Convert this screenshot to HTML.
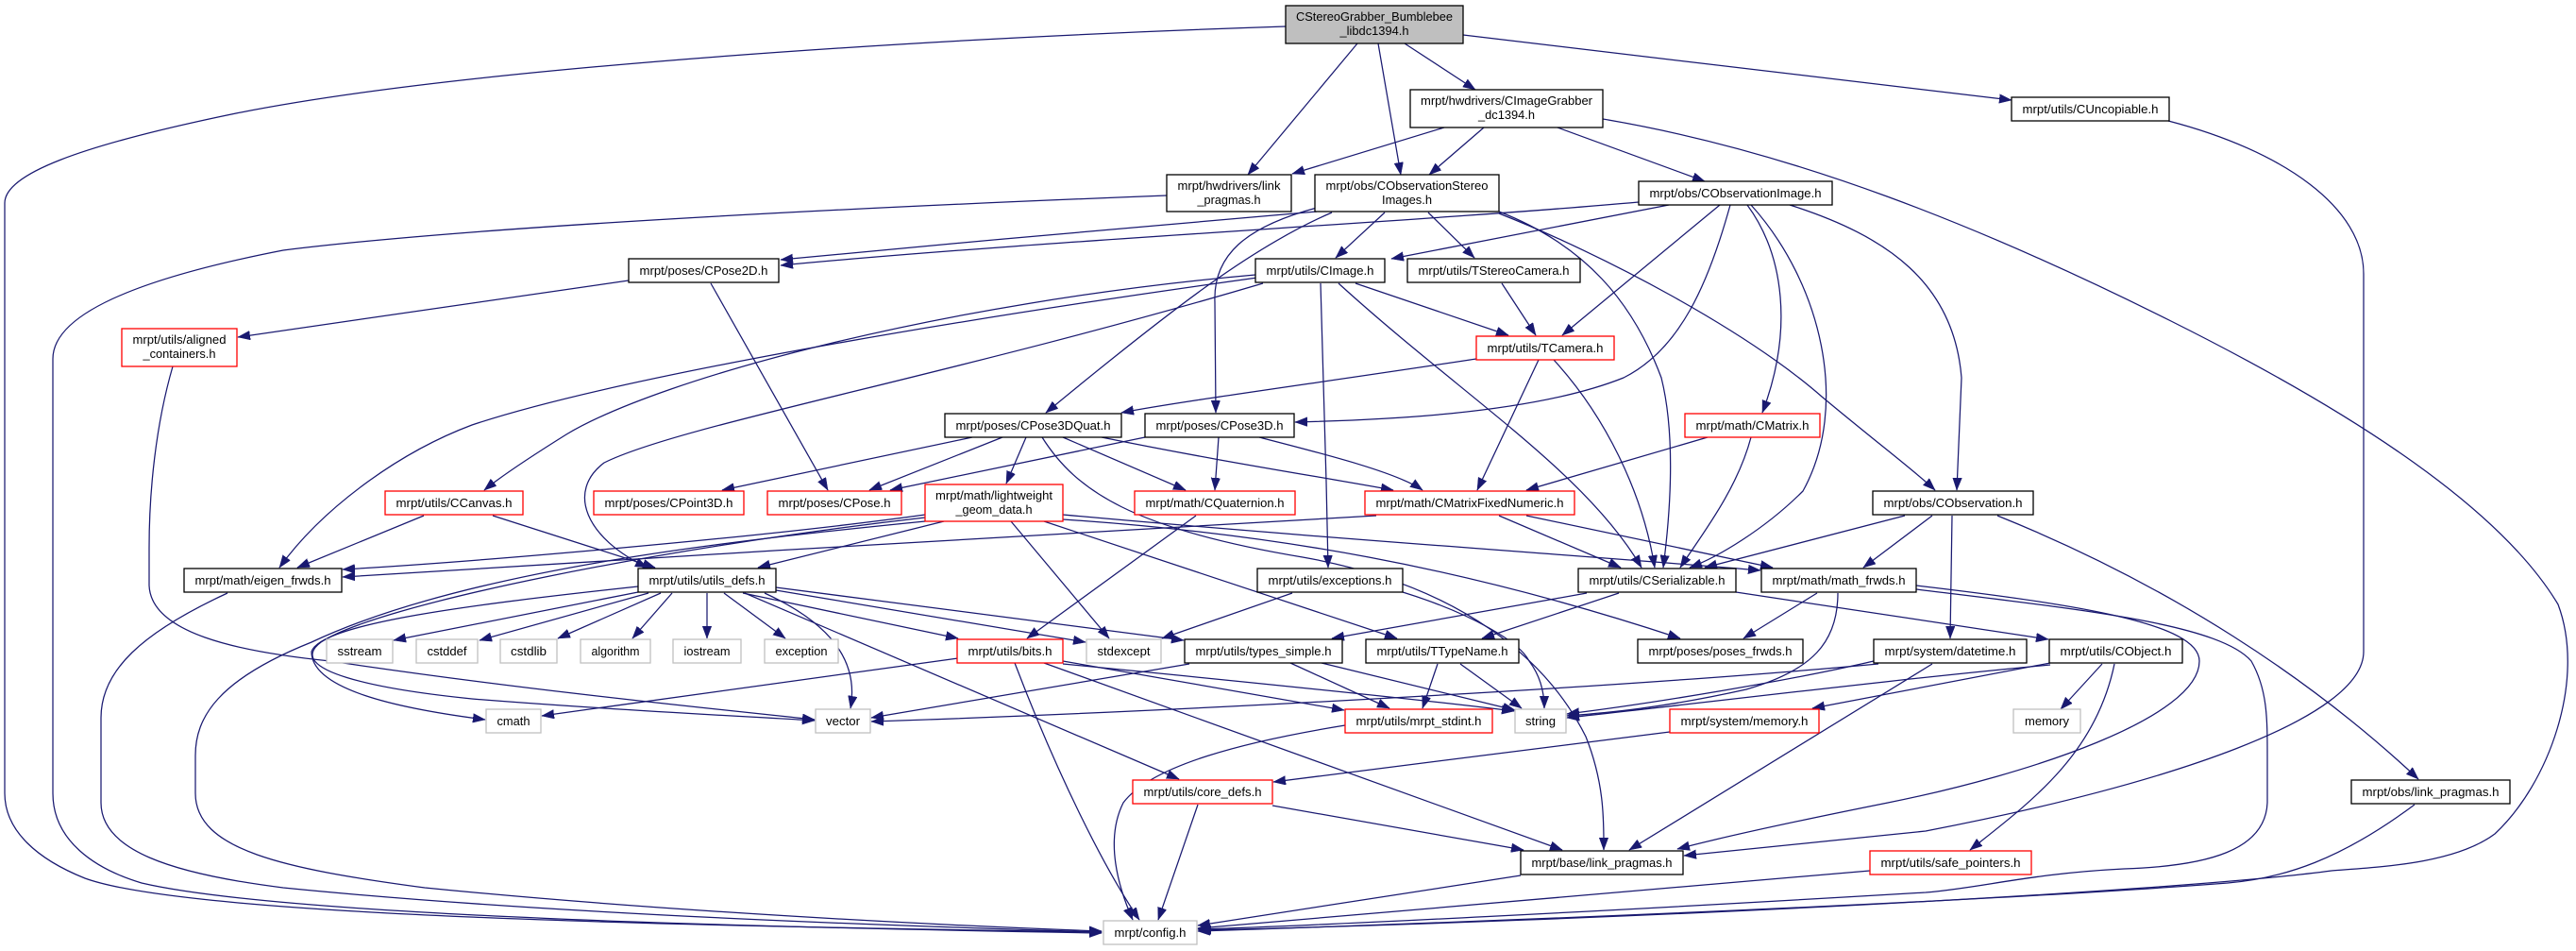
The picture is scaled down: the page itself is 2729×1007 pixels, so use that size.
<!DOCTYPE html>
<html>
<head>
<meta charset="utf-8">
<style>
html,body{margin:0;padding:0;background:#fff;}
svg{display:block;}
text{font-family:"Liberation Sans",Arial,sans-serif;font-size:13px;fill:#000;}
.e{fill:none;stroke:#191970;stroke-width:1.25;marker-end:url(#ah);}
.nb{fill:#fff;stroke:#000;stroke-width:1.3;}
.nr{fill:#fff;stroke:#ff0000;stroke-width:1.3;}
.ng{fill:#fff;stroke:#bfbfbf;stroke-width:1.3;}
</style>
</head>
<body>
<svg width="2729" height="1007" viewBox="0 0 2729 1007" xmlns="http://www.w3.org/2000/svg">
<defs>
<marker id="ah" markerUnits="userSpaceOnUse" markerWidth="14" markerHeight="11" refX="13" refY="4.8" orient="auto">
<path d="M0,0 L13,4.8 L0,9.6 z" fill="#191970" stroke="#191970" stroke-width="0.5"/>
</marker>
</defs>
<rect width="2729" height="1007" fill="#fff"/>

<!-- edges -->
<g>
<path class="e" d="M1362,28 C1000,40 500,70 250,120 C80,155 5,185 5,215 L5,840 C5,880 40,910 90,930 C200,970 700,980 1167,987"/>
<path class="e" d="M1438,46 L1322,185"/>
<path class="e" d="M1460,46 L1484,185"/>
<path class="e" d="M1488,46 L1563,95"/>
<path class="e" d="M1550,37 L2131,106"/>
<path class="e" d="M1530,135 L1369,184"/>
<path class="e" d="M1572,135 L1514,185"/>
<path class="e" d="M1650,135 L1806,192"/>
<path class="e" d="M1698,126 C1900,160 2100,240 2300,340 C2500,440 2650,540 2710,640 C2740,720 2700,830 2643,883 C2600,915 2520,918 2470,922 C2300,945 1700,975 1270,985"/>
<path class="e" d="M1236,207 C900,220 500,240 300,265 C120,300 56,340 56,380 L56,840 C56,890 100,920 150,935 C300,970 800,982 1167,988"/>
<path class="e" d="M1395,224 C1300,232 1000,258 827,275"/>
<path class="e" d="M1736,214 C1500,235 1100,255 827,281"/>
<path class="e" d="M1467,225 L1415,273"/>
<path class="e" d="M1513,225 L1562,273"/>
<path class="e" d="M1411,225 C1330,260 1250,320 1108,437"/>
<path class="e" d="M1395,220 C1320,240 1285,270 1287,320 L1288,437"/>
<path class="e" d="M1588,224 C1680,260 1730,320 1760,400 C1775,460 1770,540 1762,601"/>
<path class="e" d="M1588,226 C1700,270 1850,350 1930,420 C1990,470 2030,500 2050,519"/>
<path class="e" d="M1768,217 L1474,274"/>
<path class="e" d="M1822,217 L1655,355"/>
<path class="e" d="M1833,217 C1810,300 1780,370 1720,400 C1620,440 1450,445 1372,447"/>
<path class="e" d="M1851,217 C1890,270 1900,350 1867,437"/>
<path class="e" d="M1855,217 C1930,300 1960,430 1910,520 C1870,560 1820,590 1790,601"/>
<path class="e" d="M1896,217 C2000,250 2070,300 2078,400 L2073,519"/>
<path class="e" d="M666,297 L252,357"/>
<path class="e" d="M753,300 L877,519"/>
<path class="e" d="M1330,291 C1000,320 700,400 600,460 C560,485 530,505 513,519"/>
<path class="e" d="M1332,294 C1000,340 650,400 500,450 C420,480 340,540 296,601"/>
<path class="e" d="M1338,300 C1000,400 720,450 640,490 C600,520 620,570 686,601"/>
<path class="e" d="M1436,300 L1598,355"/>
<path class="e" d="M1399,300 L1405,510 L1407,601"/>
<path class="e" d="M1418,300 C1550,420 1680,500 1739,601"/>
<path class="e" d="M1591,300 L1627,355"/>
<path class="e" d="M183,388 C165,450 158,520 158,580 L158,620 C160,670 250,690 350,700 C550,730 750,750 863,762"/>
<path class="e" d="M1564,380 C1400,405 1250,425 1188,437"/>
<path class="e" d="M1630,381 L1565,519"/>
<path class="e" d="M1646,381 C1700,440 1740,520 1753,601"/>
<path class="e" d="M1030,463 L765,519"/>
<path class="e" d="M1062,463 L921,519"/>
<path class="e" d="M1087,463 L1066,512"/>
<path class="e" d="M1126,463 L1256,519"/>
<path class="e" d="M1167,463 C1300,490 1400,505 1476,519"/>
<path class="e" d="M1104,463 C1140,520 1200,560 1380,590 C1550,620 1640,700 1680,780 C1700,830 1699,870 1699,900"/>
<path class="e" d="M1213,463 L943,519"/>
<path class="e" d="M1291,463 L1287,519"/>
<path class="e" d="M1334,463 C1400,480 1480,500 1507,519"/>
<path class="e" d="M1809,463 L1617,519"/>
<path class="e" d="M1855,463 C1840,520 1800,570 1780,601"/>
<path class="e" d="M449,546 L315,601"/>
<path class="e" d="M522,546 L694,601"/>
<path class="e" d="M1267,546 L1088,676"/>
<path class="e" d="M980,545 C800,570 500,595 363,603"/>
<path class="e" d="M1000,552 L803,601"/>
<path class="e" d="M1071,552 L1175,676"/>
<path class="e" d="M1126,545 C1400,570 1700,590 1865,604"/>
<path class="e" d="M1106,552 L1480,676"/>
<path class="e" d="M1126,550 C1350,565 1550,600 1780,676"/>
<path class="e" d="M980,552 C800,570 500,600 330,680 C230,720 207,760 207,800 L207,840 C207,900 300,920 450,940 C700,965 1000,980 1167,986"/>
<path class="e" d="M980,548 C700,580 400,640 340,680 C300,710 400,730 500,740 C650,752 780,758 863,763"/>
<path class="e" d="M676,621 C500,640 340,660 330,690 C330,730 420,750 514,762"/>
<path class="e" d="M1458,546 C1200,560 700,590 363,611"/>
<path class="e" d="M1588,546 L1717,601"/>
<path class="e" d="M1617,546 L1878,601"/>
<path class="e" d="M2018,546 L1806,601"/>
<path class="e" d="M2047,546 L1974,601"/>
<path class="e" d="M2068,546 L2066,676"/>
<path class="e" d="M2116,546 C2300,620 2450,720 2562,825"/>
<path class="e" d="M676,627 L417,678"/>
<path class="e" d="M687,628 L508,678"/>
<path class="e" d="M700,628 L591,676"/>
<path class="e" d="M712,628 L670,676"/>
<path class="e" d="M749,628 L749,676"/>
<path class="e" d="M767,628 L832,676"/>
<path class="e" d="M810,628 C880,660 910,700 901,750"/>
<path class="e" d="M787,628 L1015,676"/>
<path class="e" d="M822,625 L1150,680"/>
<path class="e" d="M822,622 L1254,678"/>
<path class="e" d="M789,628 L1249,825"/>
<path class="e" d="M1369,628 L1231,676"/>
<path class="e" d="M1486,627 C1560,650 1610,680 1620,700 C1635,720 1636,740 1636,750"/>
<path class="e" d="M1681,628 L1411,676"/>
<path class="e" d="M1715,628 L1570,676"/>
<path class="e" d="M1839,627 L2170,677"/>
<path class="e" d="M1925,628 L1847,676"/>
<path class="e" d="M1947,628 C1947,680 1920,710 1850,730 C1760,750 1700,755 1660,758"/>
<path class="e" d="M2030,620 C2200,640 2330,660 2330,700 C2330,760 2150,820 2000,850 C1900,870 1830,885 1777,899"/>
<path class="e" d="M2030,624 C2200,645 2350,660 2385,700 C2402,730 2402,760 2402,800 L2402,850 C2400,900 2340,917 2250,920 C2150,925 2100,940 2040,945 C1700,965 1400,980 1269,984"/>
<path class="e" d="M1985,700 C1900,720 1750,745 1660,756"/>
<path class="e" d="M1990,703 C1700,730 1200,755 923,764"/>
<path class="e" d="M2047,703 L1726,900"/>
<path class="e" d="M2227,703 L2183,751"/>
<path class="e" d="M2240,703 C2220,800 2150,850 2087,900"/>
<path class="e" d="M2172,702 L1920,750"/>
<path class="e" d="M2172,704 C2000,720 1800,745 1660,760"/>
<path class="e" d="M1769,775 L1349,828"/>
<path class="e" d="M1269,852 L1227,974"/>
<path class="e" d="M1348,853 L1614,900"/>
<path class="e" d="M1015,697 L574,758"/>
<path class="e" d="M1075,702 C1120,820 1170,920 1207,974"/>
<path class="e" d="M1126,700 L1424,752"/>
<path class="e" d="M1106,702 L1655,900"/>
<path class="e" d="M1126,703 C1300,720 1500,740 1604,753"/>
<path class="e" d="M1260,703 L923,760"/>
<path class="e" d="M1367,702 L1472,750"/>
<path class="e" d="M1400,702 L1605,752"/>
<path class="e" d="M1523,703 L1507,750"/>
<path class="e" d="M1547,703 L1612,750"/>
<path class="e" d="M1425,768 C1320,785 1220,810 1190,850 C1170,890 1185,940 1200,974"/>
<path class="e" d="M1611,927 L1269,980"/>
<path class="e" d="M1981,922 L1269,983"/>
<path class="e" d="M2558,852 C2480,910 2420,930 2360,935 C2100,955 1600,975 1269,986"/>
<path class="e" d="M2297,128 C2420,160 2504,220 2504,290 L2504,690 C2504,760 2300,830 2040,880 L1784,906"/>
<path class="e" d="M241,628 C150,670 107,710 107,760 L107,850 C107,900 180,925 300,940 C600,970 1000,982 1167,987"/>
</g>

<!-- nodes -->
<g text-anchor="middle">
<rect x="1362" y="6" width="188" height="40" fill="#bfbfbf" stroke="#000" stroke-width="1.3"/>
<text x="1456" y="22" textLength="166" lengthAdjust="spacingAndGlyphs">CStereoGrabber_Bumblebee</text>
<text x="1456" y="37" textLength="73" lengthAdjust="spacingAndGlyphs">_libdc1394.h</text>

<rect class="nb" x="2131" y="103" width="167" height="25"/>
<text x="2214.5" y="120" textLength="144" lengthAdjust="spacingAndGlyphs">mrpt/utils/CUncopiable.h</text>

<rect class="nb" x="1494" y="95" width="204" height="40"/>
<text x="1596" y="111" textLength="182" lengthAdjust="spacingAndGlyphs">mrpt/hwdrivers/CImageGrabber</text>
<text x="1596" y="126" textLength="60" lengthAdjust="spacingAndGlyphs">_dc1394.h</text>

<rect class="nb" x="1236" y="185" width="132" height="39"/>
<text x="1302" y="201" textLength="109" lengthAdjust="spacingAndGlyphs">mrpt/hwdrivers/link</text>
<text x="1302" y="216" textLength="67" lengthAdjust="spacingAndGlyphs">_pragmas.h</text>

<rect class="nb" x="1393" y="185" width="195" height="39"/>
<text x="1490.5" y="201" textLength="172" lengthAdjust="spacingAndGlyphs">mrpt/obs/CObservationStereo</text>
<text x="1490.5" y="216" textLength="53" lengthAdjust="spacingAndGlyphs">Images.h</text>

<rect class="nb" x="1736" y="192" width="205" height="25"/>
<text x="1838.5" y="209" textLength="182" lengthAdjust="spacingAndGlyphs">mrpt/obs/CObservationImage.h</text>

<rect class="nb" x="666" y="274" width="159" height="25"/>
<text x="745.5" y="291" textLength="136" lengthAdjust="spacingAndGlyphs">mrpt/poses/CPose2D.h</text>

<rect class="nb" x="1330" y="274" width="137" height="25"/>
<text x="1398.5" y="291" textLength="114" lengthAdjust="spacingAndGlyphs">mrpt/utils/CImage.h</text>

<rect class="nb" x="1491" y="274" width="183" height="25"/>
<text x="1582.5" y="291" textLength="160" lengthAdjust="spacingAndGlyphs">mrpt/utils/TStereoCamera.h</text>

<rect class="nr" x="129" y="348" width="122" height="40"/>
<text x="190" y="364" textLength="99" lengthAdjust="spacingAndGlyphs">mrpt/utils/aligned</text>
<text x="190" y="379" textLength="77" lengthAdjust="spacingAndGlyphs">_containers.h</text>

<rect class="nr" x="1564" y="356" width="146" height="25"/>
<text x="1637" y="373" textLength="123" lengthAdjust="spacingAndGlyphs">mrpt/utils/TCamera.h</text>

<rect class="nb" x="1001" y="438" width="187" height="25"/>
<text x="1094.5" y="455" textLength="164" lengthAdjust="spacingAndGlyphs">mrpt/poses/CPose3DQuat.h</text>

<rect class="nb" x="1213" y="438" width="158" height="25"/>
<text x="1292" y="455" textLength="135" lengthAdjust="spacingAndGlyphs">mrpt/poses/CPose3D.h</text>

<rect class="nr" x="1785" y="438" width="143" height="25"/>
<text x="1856.5" y="455" textLength="120" lengthAdjust="spacingAndGlyphs">mrpt/math/CMatrix.h</text>

<rect class="nr" x="408" y="520" width="146" height="25"/>
<text x="481" y="537" textLength="123" lengthAdjust="spacingAndGlyphs">mrpt/utils/CCanvas.h</text>

<rect class="nr" x="629" y="520" width="159" height="25"/>
<text x="708.5" y="537" textLength="136" lengthAdjust="spacingAndGlyphs">mrpt/poses/CPoint3D.h</text>

<rect class="nr" x="813" y="520" width="142" height="25"/>
<text x="884" y="537" textLength="119" lengthAdjust="spacingAndGlyphs">mrpt/poses/CPose.h</text>

<rect class="nr" x="980" y="513" width="146" height="39"/>
<text x="1053" y="529" textLength="124" lengthAdjust="spacingAndGlyphs">mrpt/math/lightweight</text>
<text x="1053" y="544" textLength="81" lengthAdjust="spacingAndGlyphs">_geom_data.h</text>

<rect class="nr" x="1202" y="520" width="170" height="25"/>
<text x="1287" y="537" textLength="147" lengthAdjust="spacingAndGlyphs">mrpt/math/CQuaternion.h</text>

<rect class="nr" x="1446" y="520" width="222" height="25"/>
<text x="1557" y="537" textLength="199" lengthAdjust="spacingAndGlyphs">mrpt/math/CMatrixFixedNumeric.h</text>

<rect class="nb" x="1984" y="520" width="170" height="25"/>
<text x="2069" y="537" textLength="147" lengthAdjust="spacingAndGlyphs">mrpt/obs/CObservation.h</text>

<rect class="nb" x="195" y="602" width="167" height="25"/>
<text x="278.5" y="619" textLength="144" lengthAdjust="spacingAndGlyphs">mrpt/math/eigen_frwds.h</text>

<rect class="nb" x="676" y="602" width="146" height="25"/>
<text x="749" y="619" textLength="123" lengthAdjust="spacingAndGlyphs">mrpt/utils/utils_defs.h</text>

<rect class="nb" x="1332" y="602" width="154" height="25"/>
<text x="1409" y="619" textLength="131" lengthAdjust="spacingAndGlyphs">mrpt/utils/exceptions.h</text>

<rect class="nb" x="1672" y="602" width="167" height="25"/>
<text x="1755.5" y="619" textLength="144" lengthAdjust="spacingAndGlyphs">mrpt/utils/CSerializable.h</text>

<rect class="nb" x="1866" y="602" width="164" height="25"/>
<text x="1948" y="619" textLength="141" lengthAdjust="spacingAndGlyphs">mrpt/math/math_frwds.h</text>

<rect class="ng" x="346" y="677" width="70" height="25"/>
<text x="381" y="694" textLength="47" lengthAdjust="spacingAndGlyphs">sstream</text>

<rect class="ng" x="441" y="677" width="65" height="25"/>
<text x="473.5" y="694" textLength="42" lengthAdjust="spacingAndGlyphs">cstddef</text>

<rect class="ng" x="530" y="677" width="60" height="25"/>
<text x="560" y="694" textLength="38" lengthAdjust="spacingAndGlyphs">cstdlib</text>

<rect class="ng" x="615" y="677" width="74" height="25"/>
<text x="652" y="694" textLength="51" lengthAdjust="spacingAndGlyphs">algorithm</text>

<rect class="ng" x="713" y="677" width="72" height="25"/>
<text x="749" y="694" textLength="49" lengthAdjust="spacingAndGlyphs">iostream</text>

<rect class="ng" x="810" y="677" width="78" height="25"/>
<text x="849" y="694" textLength="55" lengthAdjust="spacingAndGlyphs">exception</text>

<rect class="nr" x="1014" y="677" width="112" height="25"/>
<text x="1070" y="694" textLength="89" lengthAdjust="spacingAndGlyphs">mrpt/utils/bits.h</text>

<rect class="ng" x="1151" y="677" width="79" height="25"/>
<text x="1190.5" y="694" textLength="56" lengthAdjust="spacingAndGlyphs">stdexcept</text>

<rect class="nb" x="1255" y="677" width="167" height="25"/>
<text x="1338.5" y="694" textLength="144" lengthAdjust="spacingAndGlyphs">mrpt/utils/types_simple.h</text>

<rect class="nb" x="1447" y="677" width="162" height="25"/>
<text x="1528" y="694" textLength="139" lengthAdjust="spacingAndGlyphs">mrpt/utils/TTypeName.h</text>

<rect class="nb" x="1735" y="677" width="175" height="25"/>
<text x="1822.5" y="694" textLength="152" lengthAdjust="spacingAndGlyphs">mrpt/poses/poses_frwds.h</text>

<rect class="nb" x="1985" y="677" width="162" height="25"/>
<text x="2066" y="694" textLength="139" lengthAdjust="spacingAndGlyphs">mrpt/system/datetime.h</text>

<rect class="nb" x="2171" y="677" width="141" height="25"/>
<text x="2241.5" y="694" textLength="118" lengthAdjust="spacingAndGlyphs">mrpt/utils/CObject.h</text>

<rect class="ng" x="515" y="751" width="58" height="25"/>
<text x="544" y="768" textLength="35" lengthAdjust="spacingAndGlyphs">cmath</text>

<rect class="ng" x="864" y="751" width="58" height="25"/>
<text x="893" y="768" textLength="36" lengthAdjust="spacingAndGlyphs">vector</text>

<rect class="nr" x="1425" y="751" width="156" height="25"/>
<text x="1503" y="768" textLength="133" lengthAdjust="spacingAndGlyphs">mrpt/utils/mrpt_stdint.h</text>

<rect class="ng" x="1605" y="751" width="54" height="25"/>
<text x="1632" y="768" textLength="32" lengthAdjust="spacingAndGlyphs">string</text>

<rect class="nr" x="1769" y="751" width="158" height="25"/>
<text x="1848" y="768" textLength="135" lengthAdjust="spacingAndGlyphs">mrpt/system/memory.h</text>

<rect class="ng" x="2133" y="751" width="71" height="25"/>
<text x="2168.5" y="768" textLength="47" lengthAdjust="spacingAndGlyphs">memory</text>

<rect class="nr" x="1200" y="826" width="148" height="25"/>
<text x="1274" y="843" textLength="125" lengthAdjust="spacingAndGlyphs">mrpt/utils/core_defs.h</text>

<rect class="nb" x="2491" y="826" width="168" height="25"/>
<text x="2575" y="843" textLength="145" lengthAdjust="spacingAndGlyphs">mrpt/obs/link_pragmas.h</text>

<rect class="nb" x="1611" y="901" width="172" height="25"/>
<text x="1697" y="918" textLength="149" lengthAdjust="spacingAndGlyphs">mrpt/base/link_pragmas.h</text>

<rect class="nr" x="1981" y="901" width="171" height="25"/>
<text x="2066.5" y="918" textLength="148" lengthAdjust="spacingAndGlyphs">mrpt/utils/safe_pointers.h</text>

<rect class="ng" x="1169" y="975" width="99" height="25"/>
<text x="1218.5" y="992" textLength="76" lengthAdjust="spacingAndGlyphs">mrpt/config.h</text>
</g>
</svg>
</body>
</html>
